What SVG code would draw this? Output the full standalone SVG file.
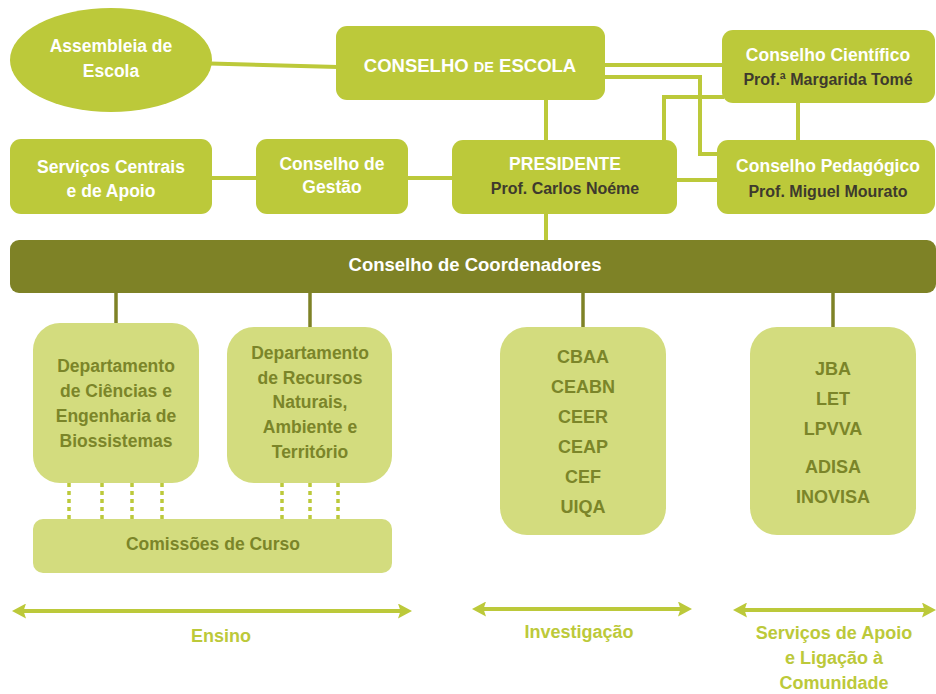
<svg xmlns="http://www.w3.org/2000/svg" width="936" height="694" viewBox="0 0 936 694">
<defs>
<style>
text{font-family:"Liberation Sans",Arial,sans-serif;font-weight:bold;text-anchor:middle}
.lg{fill:#bcc93a}
.pale{fill:#d3dc7e}
.w{fill:#ffffff;font-size:17.5px}
.d{fill:#3e3a2d;font-size:16px}
.o{fill:#7b8529;font-size:17.5px}
.a{fill:#bcc93a;font-size:18px}
.c{fill:none;stroke:#bcc93a;stroke-width:4}
.k{fill:none;stroke:#7e8226;stroke-width:3.5}
.dot{fill:none;stroke:#bcc93a;stroke-width:3.5;stroke-dasharray:4 4}
.arr{fill:none;stroke:#bcc93a;stroke-width:4;marker-start:url(#ah);marker-end:url(#ah)}
</style>
<marker id="ah" viewBox="0 0 14 15" refX="10" refY="7.5" markerWidth="3.5" markerHeight="3.75" orient="auto-start-reverse" markerUnits="strokeWidth">
<path d="M0,0 L14,7.5 L0,15 L2.5,7.5 Z" fill="#bcc93a"/>
</marker>
</defs>

<g id="connectors">
<path class="c" d="M210,63.5 L338,67"/>
<path class="c" d="M546,98 V142"/>
<path class="c" d="M603,65 H724"/>
<path class="c" d="M603,77 H700 V154 H719"/>
<path class="c" d="M664,142 V97 H724"/>
<path class="c" d="M798,101 V142"/>
<path class="c" d="M210,178 H258"/>
<path class="c" d="M406,178 H454"/>
<path class="c" d="M675,180 H719"/>
<path class="c" d="M546,212 V242"/>
<path class="k" d="M116,291 V325"/>
<path class="k" d="M310,291 V329"/>
<path class="k" d="M583,291 V329"/>
<path class="k" d="M833,291 V329"/>
<path class="dot" d="M69,483 V519 M102,483 V519 M132,483 V519 M162,483 V519 M282,483 V519 M310,483 V519 M338,483 V519"/>
<path class="arr" d="M16,611 H408"/>
<path class="arr" d="M476,609 H688"/>
<path class="arr" d="M737,610 H932"/>
</g>

<g id="assembleia">
<ellipse class="lg" cx="111" cy="60" rx="101" ry="52"/>
<text class="w" x="111" y="52">Assembleia de</text>
<text class="w" x="111" y="77">Escola</text>
</g>

<g id="conselho-escola">
<rect class="lg" x="336" y="26" width="269" height="74" rx="11"/>
<text class="w" x="470" y="72" style="font-size:18.5px">CONSELHO <tspan style="font-size:14.5px">DE</tspan> ESCOLA</text>
</g>

<g id="conselho-cientifico">
<rect class="lg" x="722" y="30" width="213" height="73" rx="11"/>
<text class="w" x="828" y="61">Conselho Científico</text>
<text class="d" x="828" y="85">Prof.ª Margarida Tomé</text>
</g>

<g id="servicos-centrais">
<rect class="lg" x="10" y="139" width="202" height="75" rx="11"/>
<text class="w" x="111" y="173">Serviços Centrais</text>
<text class="w" x="111" y="197">e de Apoio</text>
</g>

<g id="conselho-gestao">
<rect class="lg" x="256" y="139" width="152" height="75" rx="11"/>
<text class="w" x="332" y="170">Conselho de</text>
<text class="w" x="332" y="193">Gestão</text>
</g>

<g id="presidente">
<rect class="lg" x="452" y="140" width="225" height="74" rx="11"/>
<text class="w" x="565" y="170">PRESIDENTE</text>
<text class="d" x="565" y="194">Prof. Carlos Noéme</text>
</g>

<g id="conselho-pedagogico">
<rect class="lg" x="717" y="140" width="218" height="74" rx="11"/>
<text class="w" x="828" y="172">Conselho Pedagógico</text>
<text class="d" x="828" y="197">Prof. Miguel Mourato</text>
</g>

<g id="conselho-coordenadores">
<rect x="10" y="240" width="926" height="53" rx="9" fill="#7e8226"/>
<text class="w" x="475" y="271" style="font-size:18.5px">Conselho de Coordenadores</text>
</g>

<g id="dep-ceb">
<rect class="pale" x="33" y="323" width="166" height="160" rx="27"/>
<text class="o" x="116" y="372">Departamento</text>
<text class="o" x="116" y="397">de Ciências e</text>
<text class="o" x="116" y="422">Engenharia de</text>
<text class="o" x="116" y="447">Biossistemas</text>
</g>

<g id="dep-rnat">
<rect class="pale" x="227" y="327" width="165" height="156" rx="27"/>
<text class="o" x="310" y="359">Departamento</text>
<text class="o" x="310" y="384">de Recursos</text>
<text class="o" x="310" y="408">Naturais,</text>
<text class="o" x="310" y="433">Ambiente e</text>
<text class="o" x="310" y="458">Território</text>
</g>

<g id="comissoes-curso">
<rect class="pale" x="33" y="519" width="359" height="54" rx="10"/>
<text class="o" x="213" y="550">Comissões de Curso</text>
</g>

<g id="investigacao-unidades">
<rect class="pale" x="500" y="327" width="166" height="208" rx="27"/>
<text class="o" x="583" y="363" style="font-size:18px">CBAA</text>
<text class="o" x="583" y="393" style="font-size:18px">CEABN</text>
<text class="o" x="583" y="423" style="font-size:18px">CEER</text>
<text class="o" x="583" y="453" style="font-size:18px">CEAP</text>
<text class="o" x="583" y="483" style="font-size:18px">CEF</text>
<text class="o" x="583" y="513" style="font-size:18px">UIQA</text>
</g>

<g id="servicos-unidades">
<rect class="pale" x="750" y="327" width="166" height="208" rx="27"/>
<text class="o" x="833" y="375" style="font-size:18px">JBA</text>
<text class="o" x="833" y="405" style="font-size:18px">LET</text>
<text class="o" x="833" y="435" style="font-size:18px">LPVVA</text>
<text class="o" x="833" y="473" style="font-size:18px">ADISA</text>
<text class="o" x="833" y="503" style="font-size:18px">INOVISA</text>
</g>

<g id="labels">
<text class="a" x="221" y="642">Ensino</text>
<text class="a" x="579" y="638">Investigação</text>
<text class="a" x="834" y="639">Serviços de Apoio</text>
<text class="a" x="834" y="664">e Ligação à</text>
<text class="a" x="834" y="689">Comunidade</text>
</g>
</svg>
